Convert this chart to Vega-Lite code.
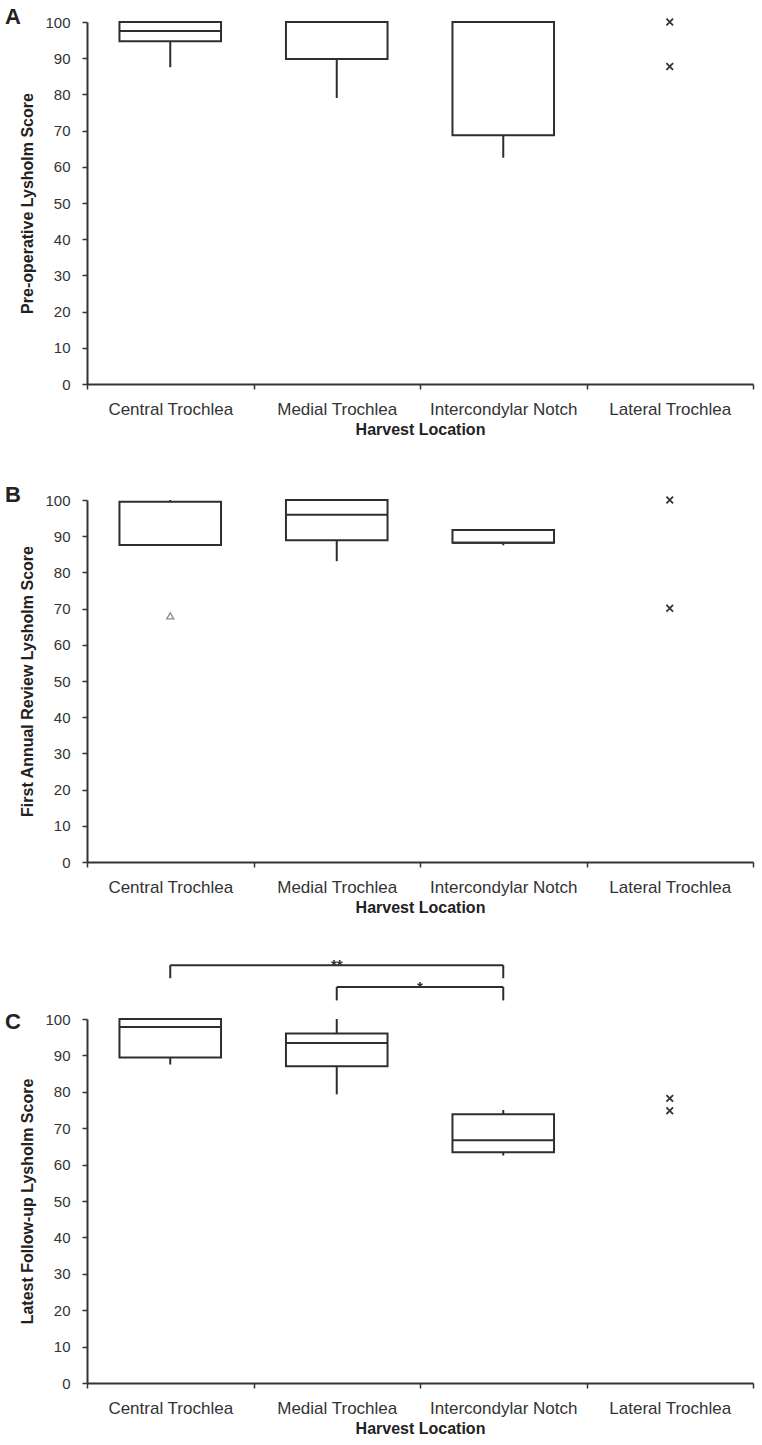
{
  "$schema": "https://vega.github.io/schema/vega-lite/v6.json",
  "padding": {"left": 5, "top": 6, "right": 5, "bottom": 5},
  "background": "white",
  "datasets": {
    "boxA": [
      {"loc": "Central Trochlea", "min": 87.5, "q1": 94.7, "med": 97.5, "q3": 100, "max": 100},
      {"loc": "Medial Trochlea", "min": 79, "q1": 89.8, "med": 100, "q3": 100, "max": 100},
      {"loc": "Intercondylar Notch", "min": 62.5, "q1": 68.7, "med": 100, "q3": 100, "max": 100}
    ],
    "ptsA": [
      {"loc": "Lateral Trochlea", "score": 100},
      {"loc": "Lateral Trochlea", "score": 87.7}
    ],
    "boxB": [
      {"loc": "Central Trochlea", "min": 87.5, "q1": 87.6, "med": 87.6, "q3": 99.5, "max": 100},
      {"loc": "Medial Trochlea", "min": 83.1, "q1": 88.9, "med": 95.9, "q3": 100, "max": 100},
      {"loc": "Intercondylar Notch", "min": 87.5, "q1": 88.2, "med": 88.2, "q3": 91.7, "max": 91.7}
    ],
    "ptsB": [
      {"loc": "Lateral Trochlea", "score": 100},
      {"loc": "Lateral Trochlea", "score": 70.1}
    ],
    "outB": [
      {"loc": "Central Trochlea", "score": 68}
    ],
    "boxC": [
      {"loc": "Central Trochlea", "min": 87.5, "q1": 89.4, "med": 97.8, "q3": 100, "max": 100},
      {"loc": "Medial Trochlea", "min": 79.3, "q1": 87.0, "med": 93.4, "q3": 96.0, "max": 100},
      {"loc": "Intercondylar Notch", "min": 62.5, "q1": 63.4, "med": 66.7, "q3": 73.8, "max": 75}
    ],
    "ptsC": [
      {"loc": "Lateral Trochlea", "score": 78.2},
      {"loc": "Lateral Trochlea", "score": 74.8}
    ],
    "brH": [
      {"a": "Central Trochlea", "b": "Intercondylar Notch", "y": 114.8},
      {"a": "Medial Trochlea", "b": "Intercondylar Notch", "y": 108.8}
    ],
    "brV": [
      {"loc": "Central Trochlea", "y1": 111.2, "y2": 114.8},
      {"loc": "Intercondylar Notch", "y1": 111.2, "y2": 114.8},
      {"loc": "Medial Trochlea", "y1": 105.1, "y2": 108.8},
      {"loc": "Intercondylar Notch", "y1": 105.1, "y2": 108.8}
    ],
    "sig": [
      {"loc": "Medial Trochlea", "pos": 0.5, "y": 114.8, "label": "**"},
      {"loc": "Intercondylar Notch", "pos": 0, "y": 108.8, "label": "*"}
    ]
  },
  "vconcat": [
    {
      "spacing": 47,
      "vconcat": [
        {
          "width": 666,
          "height": 362,
          "title": {"text": "A", "anchor": "start", "frame": "group", "dx": -82, "dy": 14, "offset": 0, "fontSize": 22, "fontWeight": "bold", "color": "#222", "font": "Liberation Sans"},
          "layer": [
            {
              "data": {"name": "boxA"},
              "mark": {"type": "rule", "color": "#2e2e2e", "strokeWidth": 2},
              "encoding": {
                "x": {"field": "loc", "type": "nominal", "sort": null, "title": "Harvest Location",
                      "scale": {"domain": ["Central Trochlea", "Medial Trochlea", "Intercondylar Notch", "Lateral Trochlea"], "paddingInner": 0, "paddingOuter": 0}},
                "y": {"field": "min", "type": "quantitative", "title": "Pre-operative Lysholm Score",
                      "scale": {"domain": [0, 100], "nice": false},
                      "axis": {"values": [0, 10, 20, 30, 40, 50, 60, 70, 80, 90, 100], "labelOverlap": false}},
                "y2": {"field": "q1"}
              }
            },
            {
              "data": {"name": "boxA"},
              "mark": {"type": "rule", "color": "#2e2e2e", "strokeWidth": 2},
              "encoding": {
                "x": {"field": "loc", "type": "nominal", "title": "Harvest Location"},
                "y": {"field": "q3", "type": "quantitative", "title": "Pre-operative Lysholm Score", "axis": {"values": [0, 10, 20, 30, 40, 50, 60, 70, 80, 90, 100], "labelOverlap": false}},
                "y2": {"field": "max"}
              }
            },
            {
              "data": {"name": "boxA"},
              "mark": {"type": "bar", "width": {"band": 0.61}, "fill": "white", "stroke": "#2e2e2e", "strokeWidth": 2},
              "encoding": {
                "x": {"field": "loc", "type": "nominal", "title": "Harvest Location"},
                "y": {"field": "q1", "type": "quantitative", "title": "Pre-operative Lysholm Score", "axis": {"values": [0, 10, 20, 30, 40, 50, 60, 70, 80, 90, 100], "labelOverlap": false}},
                "y2": {"field": "q3"}
              }
            },
            {
              "data": {"name": "boxA"},
              "mark": {"type": "tick", "size": 102, "thickness": 2, "color": "#2e2e2e", "opacity": 1},
              "encoding": {
                "x": {"field": "loc", "type": "nominal", "title": "Harvest Location"},
                "y": {"field": "med", "type": "quantitative", "title": "Pre-operative Lysholm Score", "axis": {"values": [0, 10, 20, 30, 40, 50, 60, 70, 80, 90, 100], "labelOverlap": false}}
              }
            },
            {
              "data": {"name": "ptsA"},
              "mark": {"type": "point", "shape": "M-1,-1L1,1M-1,1L1,-1", "filled": false, "stroke": "#333", "strokeWidth": 1.8, "size": 44, "opacity": 1},
              "encoding": {
                "x": {"field": "loc", "type": "nominal", "title": "Harvest Location"},
                "y": {"field": "score", "type": "quantitative", "title": "Pre-operative Lysholm Score", "axis": {"values": [0, 10, 20, 30, 40, 50, 60, 70, 80, 90, 100], "labelOverlap": false}}
              }
            }
          ]
        },
        {
          "width": 666,
          "height": 362,
          "title": {"text": "B", "anchor": "start", "frame": "group", "dx": -82, "dy": 14, "offset": 0, "fontSize": 22, "fontWeight": "bold", "color": "#222", "font": "Liberation Sans"},
          "layer": [
            {
              "data": {"name": "boxB"},
              "mark": {"type": "rule", "color": "#2e2e2e", "strokeWidth": 2},
              "encoding": {
                "x": {"field": "loc", "type": "nominal", "sort": null, "title": "Harvest Location",
                      "scale": {"domain": ["Central Trochlea", "Medial Trochlea", "Intercondylar Notch", "Lateral Trochlea"], "paddingInner": 0, "paddingOuter": 0}},
                "y": {"field": "min", "type": "quantitative", "title": "First Annual Review Lysholm Score",
                      "scale": {"domain": [0, 100], "nice": false},
                      "axis": {"values": [0, 10, 20, 30, 40, 50, 60, 70, 80, 90, 100], "labelOverlap": false}},
                "y2": {"field": "q1"}
              }
            },
            {
              "data": {"name": "boxB"},
              "mark": {"type": "rule", "color": "#2e2e2e", "strokeWidth": 2},
              "encoding": {
                "x": {"field": "loc", "type": "nominal", "title": "Harvest Location"},
                "y": {"field": "q3", "type": "quantitative", "title": "First Annual Review Lysholm Score", "axis": {"values": [0, 10, 20, 30, 40, 50, 60, 70, 80, 90, 100], "labelOverlap": false}},
                "y2": {"field": "max"}
              }
            },
            {
              "data": {"name": "boxB"},
              "mark": {"type": "bar", "width": {"band": 0.61}, "fill": "white", "stroke": "#2e2e2e", "strokeWidth": 2},
              "encoding": {
                "x": {"field": "loc", "type": "nominal", "title": "Harvest Location"},
                "y": {"field": "q1", "type": "quantitative", "title": "First Annual Review Lysholm Score", "axis": {"values": [0, 10, 20, 30, 40, 50, 60, 70, 80, 90, 100], "labelOverlap": false}},
                "y2": {"field": "q3"}
              }
            },
            {
              "data": {"name": "boxB"},
              "mark": {"type": "tick", "size": 102, "thickness": 2, "color": "#2e2e2e", "opacity": 1},
              "encoding": {
                "x": {"field": "loc", "type": "nominal", "title": "Harvest Location"},
                "y": {"field": "med", "type": "quantitative", "title": "First Annual Review Lysholm Score", "axis": {"values": [0, 10, 20, 30, 40, 50, 60, 70, 80, 90, 100], "labelOverlap": false}}
              }
            },
            {
              "data": {"name": "ptsB"},
              "mark": {"type": "point", "shape": "M-1,-1L1,1M-1,1L1,-1", "filled": false, "stroke": "#333", "strokeWidth": 1.8, "size": 44, "opacity": 1},
              "encoding": {
                "x": {"field": "loc", "type": "nominal", "title": "Harvest Location"},
                "y": {"field": "score", "type": "quantitative", "title": "First Annual Review Lysholm Score", "axis": {"values": [0, 10, 20, 30, 40, 50, 60, 70, 80, 90, 100], "labelOverlap": false}}
              }
            },
            {
              "data": {"name": "outB"},
              "mark": {"type": "point", "shape": "triangle-up", "filled": false, "stroke": "#888", "strokeWidth": 1.3, "size": 50, "opacity": 1},
              "encoding": {
                "x": {"field": "loc", "type": "nominal", "title": "Harvest Location"},
                "y": {"field": "score", "type": "quantitative", "title": "First Annual Review Lysholm Score", "axis": {"values": [0, 10, 20, 30, 40, 50, 60, 70, 80, 90, 100], "labelOverlap": false}}
              }
            }
          ]
        }
      ]
    },
    {
      "width": 666,
      "height": 364,
      "title": {"text": "C", "anchor": "start", "frame": "group", "dx": -82, "dy": 76, "offset": 0, "fontSize": 22, "fontWeight": "bold", "color": "#222", "font": "Liberation Sans"},
      "layer": [
        {
          "data": {"name": "boxC"},
          "mark": {"type": "rule", "color": "#2e2e2e", "strokeWidth": 2},
          "encoding": {
            "x": {"field": "loc", "type": "nominal", "sort": null, "title": "Harvest Location",
                  "scale": {"domain": ["Central Trochlea", "Medial Trochlea", "Intercondylar Notch", "Lateral Trochlea"], "paddingInner": 0, "paddingOuter": 0}},
            "y": {"field": "min", "type": "quantitative", "title": "Latest Follow-up Lysholm Score",
                  "scale": {"domain": [0, 100], "nice": false},
                  "axis": {"values": [0, 10, 20, 30, 40, 50, 60, 70, 80, 90, 100], "labelOverlap": false}},
            "y2": {"field": "q1"}
          }
        },
        {
          "data": {"name": "boxC"},
          "mark": {"type": "rule", "color": "#2e2e2e", "strokeWidth": 2},
          "encoding": {
            "x": {"field": "loc", "type": "nominal", "title": "Harvest Location"},
            "y": {"field": "q3", "type": "quantitative", "title": "Latest Follow-up Lysholm Score", "axis": {"values": [0, 10, 20, 30, 40, 50, 60, 70, 80, 90, 100], "labelOverlap": false}},
            "y2": {"field": "max"}
          }
        },
        {
          "data": {"name": "boxC"},
          "mark": {"type": "bar", "width": {"band": 0.61}, "fill": "white", "stroke": "#2e2e2e", "strokeWidth": 2},
          "encoding": {
            "x": {"field": "loc", "type": "nominal", "title": "Harvest Location"},
            "y": {"field": "q1", "type": "quantitative", "title": "Latest Follow-up Lysholm Score", "axis": {"values": [0, 10, 20, 30, 40, 50, 60, 70, 80, 90, 100], "labelOverlap": false}},
            "y2": {"field": "q3"}
          }
        },
        {
          "data": {"name": "boxC"},
          "mark": {"type": "tick", "size": 102, "thickness": 2, "color": "#2e2e2e", "opacity": 1},
          "encoding": {
            "x": {"field": "loc", "type": "nominal", "title": "Harvest Location"},
            "y": {"field": "med", "type": "quantitative", "title": "Latest Follow-up Lysholm Score", "axis": {"values": [0, 10, 20, 30, 40, 50, 60, 70, 80, 90, 100], "labelOverlap": false}}
          }
        },
        {
          "data": {"name": "ptsC"},
          "mark": {"type": "point", "shape": "M-1,-1L1,1M-1,1L1,-1", "filled": false, "stroke": "#333", "strokeWidth": 1.8, "size": 44, "opacity": 1},
          "encoding": {
            "x": {"field": "loc", "type": "nominal", "title": "Harvest Location"},
            "y": {"field": "score", "type": "quantitative", "title": "Latest Follow-up Lysholm Score", "axis": {"values": [0, 10, 20, 30, 40, 50, 60, 70, 80, 90, 100], "labelOverlap": false}}
          }
        },
        {
          "data": {"name": "brH"},
          "mark": {"type": "rule", "color": "#2e2e2e", "strokeWidth": 2},
          "encoding": {
            "x": {"field": "a", "type": "nominal", "title": "Harvest Location"},
            "x2": {"field": "b"},
            "y": {"field": "y", "type": "quantitative", "title": "Latest Follow-up Lysholm Score", "axis": {"values": [0, 10, 20, 30, 40, 50, 60, 70, 80, 90, 100], "labelOverlap": false}}
          }
        },
        {
          "data": {"name": "brV"},
          "mark": {"type": "rule", "color": "#2e2e2e", "strokeWidth": 2},
          "encoding": {
            "x": {"field": "loc", "type": "nominal", "title": "Harvest Location"},
            "y": {"field": "y1", "type": "quantitative", "title": "Latest Follow-up Lysholm Score", "axis": {"values": [0, 10, 20, 30, 40, 50, 60, 70, 80, 90, 100], "labelOverlap": false}},
            "y2": {"field": "y2"}
          }
        },
        {
          "data": {"name": "sig"},
          "transform": [{"filter": "datum.pos == 0.5"}],
          "mark": {"type": "text", "fontSize": 15, "fontWeight": "bold", "color": "#333", "baseline": "alphabetic", "dy": 5, "font": "Liberation Sans"},
          "encoding": {
            "x": {"field": "loc", "type": "nominal", "title": "Harvest Location"},
            "y": {"field": "y", "type": "quantitative", "title": "Latest Follow-up Lysholm Score", "axis": {"values": [0, 10, 20, 30, 40, 50, 60, 70, 80, 90, 100], "labelOverlap": false}},
            "text": {"field": "label"}
          }
        },
        {
          "data": {"name": "sig"},
          "transform": [{"filter": "datum.pos == 0"}],
          "mark": {"type": "text", "fontSize": 15, "fontWeight": "bold", "color": "#333", "baseline": "alphabetic", "dy": 5, "font": "Liberation Sans"},
          "encoding": {
            "x": {"field": "loc", "type": "nominal", "title": "Harvest Location", "bandPosition": 0},
            "y": {"field": "y", "type": "quantitative", "title": "Latest Follow-up Lysholm Score", "axis": {"values": [0, 10, 20, 30, 40, 50, 60, 70, 80, 90, 100], "labelOverlap": false}},
            "text": {"field": "label"}
          }
        }
      ]
    }
  ],
  "spacing": 43,
  "config": {
    "view": {"stroke": null},
    "font": "Liberation Sans",
    "axis": {
      "grid": false,
      "domainColor": "#333",
      "domainWidth": 2,
      "tickColor": "#333",
      "tickWidth": 1.5,
      "tickSize": 5,
      "labelFont": "Liberation Sans",
      "labelFontSize": 15,
      "labelColor": "#333",
      "titleFont": "Liberation Sans",
      "titleFontSize": 16,
      "titleFontWeight": "bold",
      "titleColor": "#222"
    },
    "axisX": {"labelAngle": 0, "labelFontSize": 17, "labelPadding": 12, "titlePadding": 4, "tickBand": "extent"},
    "axisY": {"titlePadding": 9, "labelPadding": 12}
  }
}
